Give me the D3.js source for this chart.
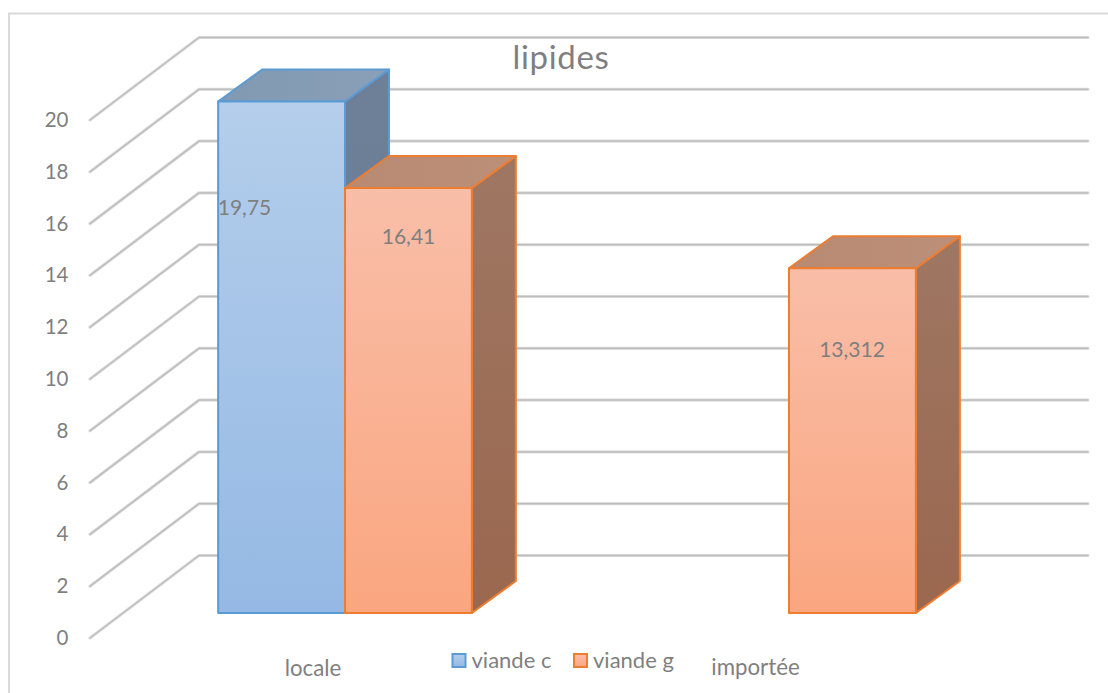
<!DOCTYPE html>
<html><head><meta charset="utf-8">
<script src="https://cdn.jsdelivr.net/npm/d3@7/dist/d3.min.js"></script>
<style>html,body{margin:0;padding:0;background:#fff;overflow:hidden}svg{display:block}text{font-family:Lato,"Open Sans",sans-serif;fill:#7f7f7f}</style>
</head><body><svg id="c" width="1108" height="693"></svg>
<script>
const title = "lipides";
const categories = ["locale", "importée"];
const seriesNames = ["viande c", "viande g"];
const viandeC = [19.75, null];
const viandeG = [16.41, 13.312];
const valueLabels = {"viande c": ["19,75", null], "viande g": ["16,41", "13,312"]};
const yTicks = [0,2,4,6,8,10,12,14,16,18,20];

const svg=d3.select("#c");
const defs=svg.append("defs");
function grad(id,a,b,x2,y2){const g=defs.append("linearGradient").attr("id",id).attr("x1",0).attr("y1",0).attr("x2",x2).attr("y2",y2);
 g.append("stop").attr("offset",0).attr("stop-color",a);g.append("stop").attr("offset",1).attr("stop-color",b);}
grad("fc","#b4ceeb","#95b9e4",0,1);grad("fg","#f9bea8","#faa680",0,1);
grad("tc","#8199b2","#8a9fb8",1,0);grad("tg","#b98a72","#bc8f79",1,0);
grad("sc","#6e8098","#6a7d96",0,1);grad("sg","#9e7763","#9b674f",0,1);

// chart frame: its right and bottom edges run past the picture
svg.append("rect").attr("x",9).attr("y",13.5).attr("width",1110).attr("height",700).attr("fill","#fff").attr("stroke","#d9d9d9").attr("stroke-width",2);

// scales
const y=d3.scaleLinear().domain([0,20]).range([0,-518]);
const backX=[199,1088], backBase=555.5, frontX=90, frontBase=638;
const barBase=613, depth={dx:44,dy:-32};
const x=d3.scaleBand().domain(categories).range([123,1011]);
const xInner=d3.scaleBand().domain(seriesNames).range([0,x.bandwidth()]).paddingInner(0).paddingOuter(0.75);

// grid
const grid=svg.append("g").attr("fill","none").attr("stroke-linejoin","round").attr("stroke-linecap","round");
yTicks.forEach(t=>{
  const d=`M${frontX},${frontBase+y(t)}L${backX[0]},${backBase+y(t)}L${backX[1]},${backBase+y(t)}`;
  grid.append("path").attr("d",d).attr("stroke","#dedede").attr("stroke-width",3.2);
  grid.append("path").attr("d",d).attr("stroke","#bdbdbd").attr("stroke-width",1.5);
});

// y tick labels
svg.append("g").selectAll("text").data(yTicks).join("text")
 .attr("x",68.5).attr("y",t=>frontBase+y(t)+7).attr("text-anchor","end").attr("font-size",20.5).text(t=>t);

// bars
const strokes={"viande c":"#5b9bd5","viande g":"#ed7d31"};
const keys={"viande c":"c","viande g":"g"};
const rows=[];
categories.forEach((cat,i)=>{
  [viandeC[i],viandeG[i]].forEach((v,j)=>{ if(v!=null) rows.push({cat,s:seriesNames[j],v,label:valueLabels[seriesNames[j]][i]}); });
});
svg.append("g").selectAll("g").data(rows).join("g").each(function(d){
  const g=d3.select(this),x0=x(d.cat)+xInner(d.s),w=xInner.bandwidth(),x1=x0+w,t=barBase+y(d.v),b=barBase,k=keys[d.s],st=strokes[d.s];
  const {dx,dy}=depth;
  const p=(pts,fill)=>g.append("path").attr("d","M"+pts.map(q=>q.join(",")).join("L")+"Z").attr("fill",fill).attr("stroke",st).attr("stroke-width",2).attr("stroke-linejoin","round");
  p([[x1,t],[x1+dx,t+dy],[x1+dx,b+dy],[x1,b]],`url(#s${k})`);
  p([[x0,t],[x0+dx,t+dy],[x1+dx,t+dy],[x1,t]],`url(#t${k})`);
  p([[x0,t],[x1,t],[x1,b],[x0,b]],`url(#f${k})`);
});

// value labels
const labelPos={"19,75":[244.5,214.5],"16,41":[408.5,243.5],"13,312":[852,356.5]};
svg.append("g").selectAll("text").data(rows).join("text")
 .attr("x",d=>labelPos[d.label][0]).attr("y",d=>labelPos[d.label][1]).attr("text-anchor","middle").attr("font-size",21).text(d=>d.label);

// title
svg.append("text").attr("x",561).attr("y",69).attr("text-anchor","middle").attr("font-size",33).attr("letter-spacing",0.7).text(title);

// category labels
const catPos=[[313,676],[755.5,675]];
svg.append("g").selectAll("text").data(categories).join("text")
 .attr("x",(d,i)=>catPos[i][0]).attr("y",(d,i)=>catPos[i][1]).attr("text-anchor","middle").attr("font-size",22.3).text(d=>d);

// legend
const legX=[452.5,574];
const leg=svg.append("g").selectAll("g").data(seriesNames).join("g").attr("transform",(d,i)=>`translate(${legX[i]},654)`);
leg.append("rect").attr("width",13).attr("height",13).attr("fill",d=>`url(#f${keys[d]})`).attr("stroke",d=>strokes[d]).attr("stroke-width",2);
leg.append("text").attr("x",19).attr("y",14).attr("font-size",22).text(d=>d);
</script></body></html>
